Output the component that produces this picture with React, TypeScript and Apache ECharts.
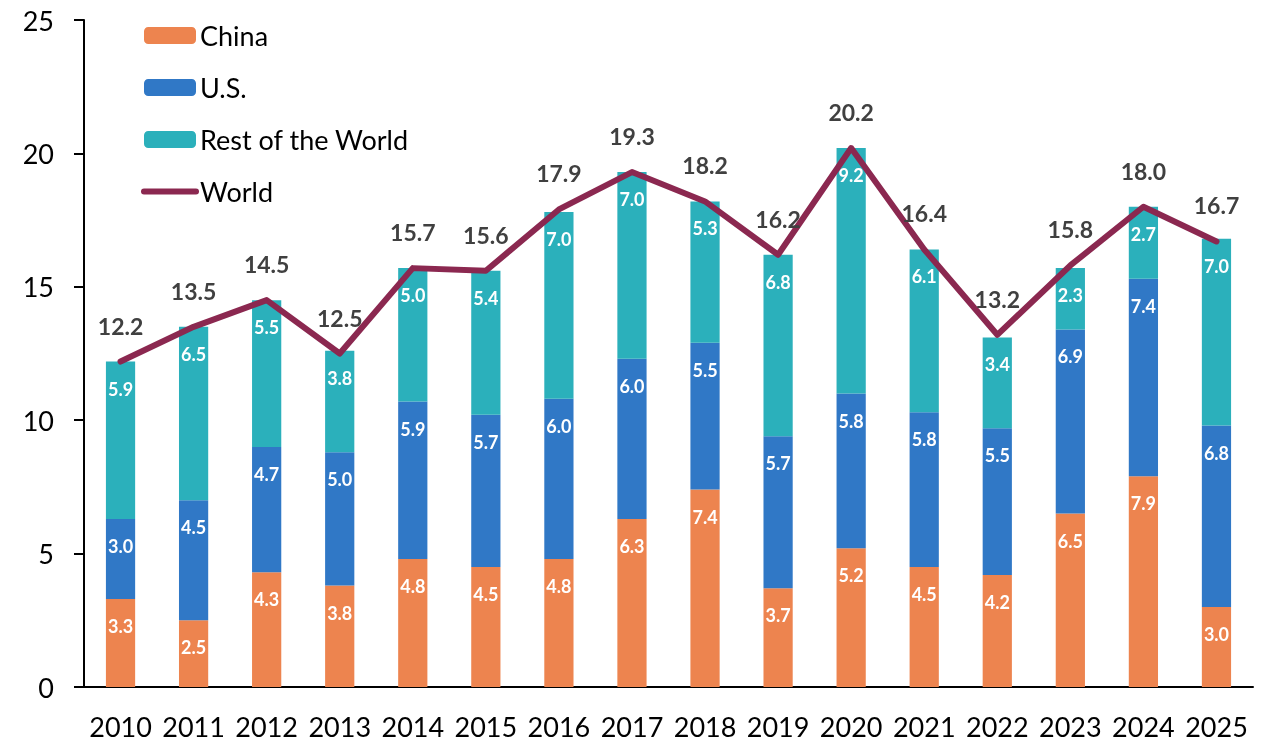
import React, { useEffect, useRef } from "react";
import * as echarts from "echarts";

const years = ["2010","2011","2012","2013","2014","2015","2016","2017","2018","2019","2020","2021","2022","2023","2024","2025"];
const china = [3.3, 2.5, 4.3, 3.8, 4.8, 4.5, 4.8, 6.3, 7.4, 3.7, 5.2, 4.5, 4.2, 6.5, 7.9, 3.0];
const us = [3.0, 4.5, 4.7, 5.0, 5.9, 5.7, 6.0, 6.0, 5.5, 5.7, 5.8, 5.8, 5.5, 6.9, 7.4, 6.8];
const rest = [5.9, 6.5, 5.5, 3.8, 5.0, 5.4, 7.0, 7.0, 5.3, 6.8, 9.2, 6.1, 3.4, 2.3, 2.7, 7.0];
const world = [12.2, 13.5, 14.5, 12.5, 15.7, 15.6, 17.9, 19.3, 18.2, 16.2, 20.2, 16.4, 13.2, 15.8, 18.0, 16.7];

const FONT = "Lato, 'Liberation Sans', sans-serif";
const LINE_COLOR = "#8B2850";

export default function App() {
  const ref = useRef<HTMLDivElement>(null);
  useEffect(() => {
    document.body.style.margin = "0";
    const chart = echarts.init(ref.current!, null, { renderer: "svg" });
    const barLabel = {
      show: true,
      position: "insideTop" as const,
      distance: 18,
      color: "#ffffff",
      fontWeight: "bold" as const,
      fontSize: 18,
      fontFamily: FONT,
      formatter: (p: any) => Number(p.value).toFixed(1),
    };
    chart.setOption({
      animation: false,
      textStyle: { fontFamily: FONT },
      grid: { left: 84, right: 13, top: 20, bottom: 58, containLabel: false },
      legend: {
        orient: "vertical",
        left: 136,
        top: 17,
        itemWidth: 52,
        itemHeight: 17,
        itemGap: 25,
        lineStyle: { width: 6, cap: "round" },
        textStyle: { fontSize: 27, color: "#000", fontFamily: FONT, padding: [0, 0, 0, -1] },
        data: [
          "China",
          "U.S.",
          "Rest of the World",
          { name: "World", itemStyle: { opacity: 0 }, lineStyle: { width: 6, cap: "round" } },
        ],
      },
      xAxis: {
        type: "category",
        data: years,
        axisLine: { lineStyle: { color: "#000", width: 2 } },
        axisTick: { show: false },
        axisLabel: { color: "#000", fontSize: 27, margin: 26, fontFamily: FONT, interval: 0 },
      },
      yAxis: {
        type: "value",
        min: 0,
        max: 25,
        interval: 5,
        axisLine: { show: true, lineStyle: { color: "#000", width: 2 } },
        axisTick: { show: true, length: 10, lineStyle: { color: "#000", width: 2 } },
        axisLabel: { color: "#000", fontSize: 27, margin: 30, fontFamily: FONT },
        splitLine: { show: false },
      },
      series: [
        {
          name: "China",
          type: "bar",
          stack: "total",
          barWidth: "40%",
          data: china,
          itemStyle: { color: "#ED844F" },
          label: barLabel,
        },
        {
          name: "U.S.",
          type: "bar",
          stack: "total",
          data: us,
          itemStyle: { color: "#3078C6" },
          label: barLabel,
        },
        {
          name: "Rest of the World",
          type: "bar",
          stack: "total",
          data: rest,
          itemStyle: { color: "#2BB0BB" },
          label: barLabel,
        },
        {
          name: "World",
          type: "line",
          data: world,
          symbol: "circle",
          symbolSize: 1,
          showSymbol: true,
          lineStyle: { color: LINE_COLOR, width: 6, cap: "round", join: "round" },
          itemStyle: { color: LINE_COLOR },
          label: {
            show: true,
            position: "top",
            distance: 24,
            color: "#404040",
            fontWeight: "bold",
            fontSize: 23,
            fontFamily: FONT,
            formatter: (p: any) => Number(p.value).toFixed(1),
          },
          z: 5,
        },
      ],
    });
    return () => chart.dispose();
  }, []);
  return <div ref={ref} style={{ position: "fixed", left: 0, top: 0, width: 1266, height: 745 }} />;
}
